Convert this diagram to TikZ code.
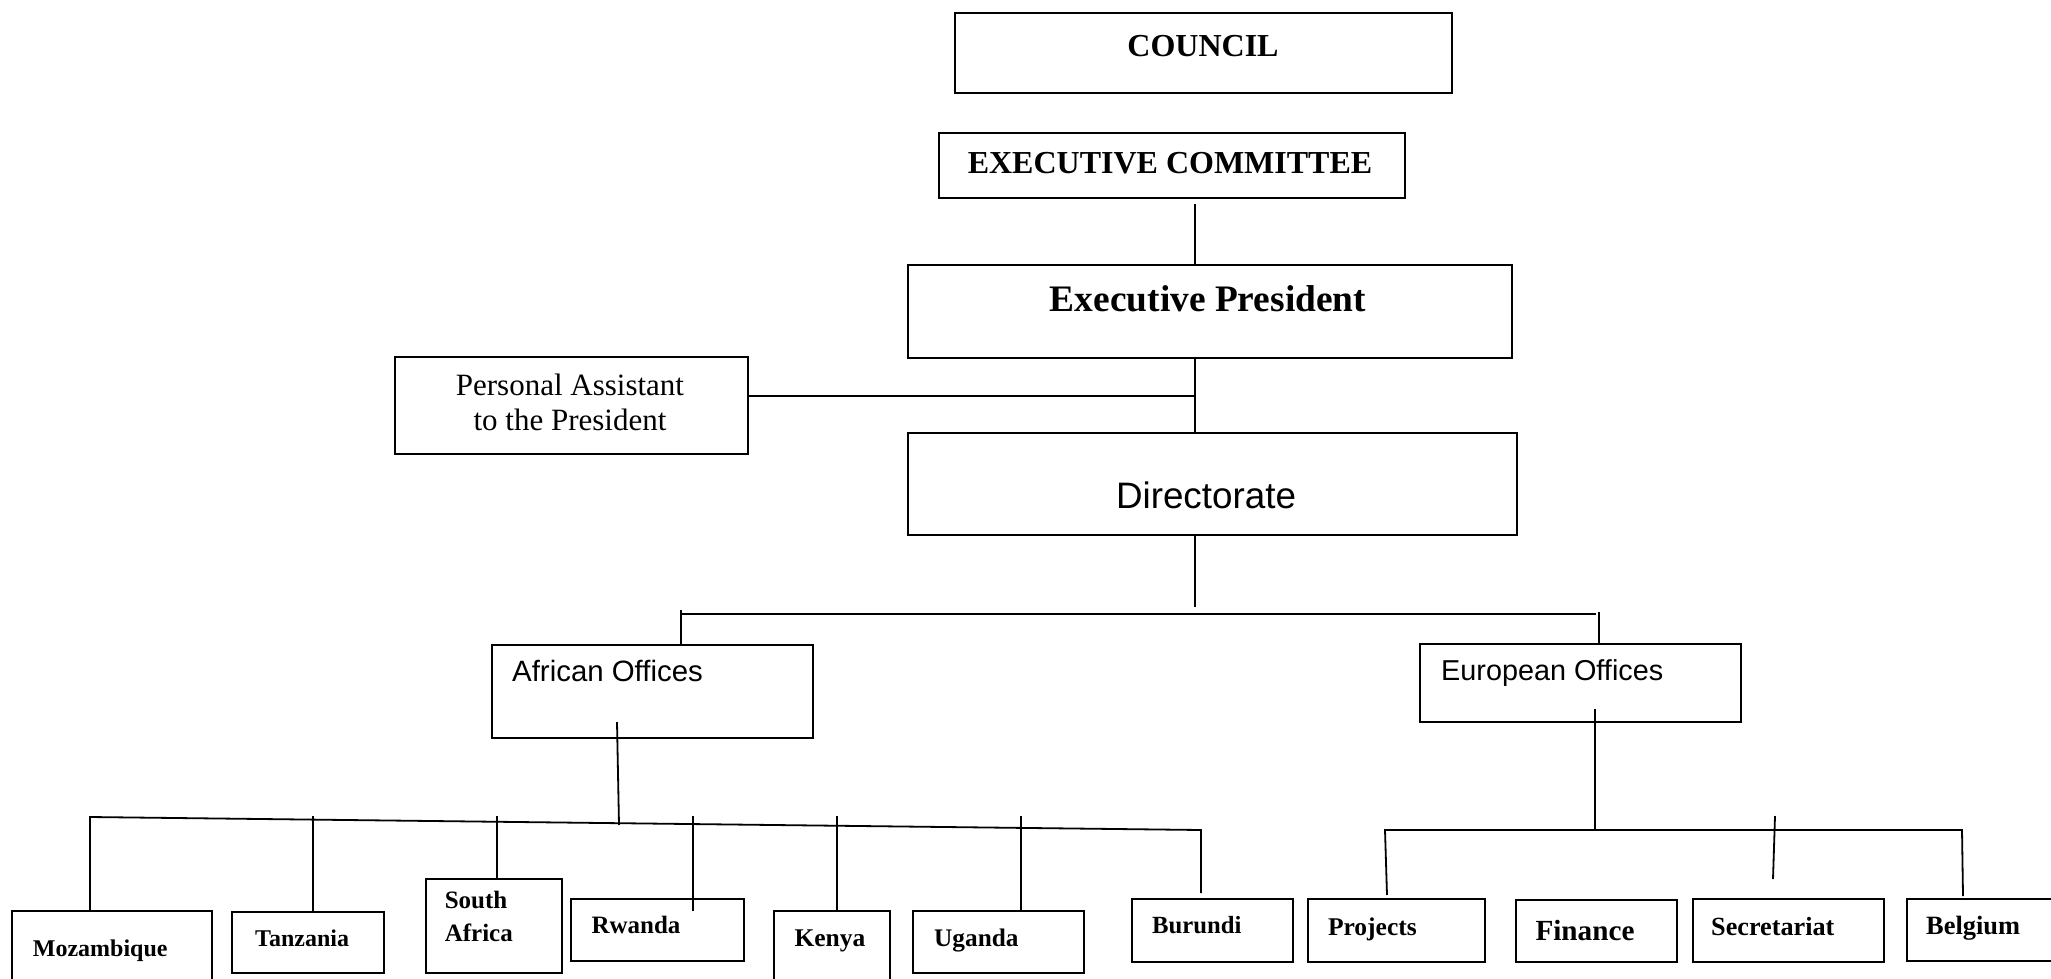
\documentclass[tikz,border=0pt]{standalone}
\usepackage{fontspec}
\setmainfont{Liberation Serif}
\newfontfamily\arialfont{Liberation Sans}

% an empty framed box given by its corners (x0,y0) -- (x1,y1), y growing downwards
\newcommand\orgbox[5]{%
  \pgfmathsetmacro\orgbw{#4-#2}\pgfmathsetmacro\orgbh{#5-#3}%
  \node[unitbox, minimum width=\orgbw pt, minimum height=\orgbh pt] (#1) at (#2,#3) {};}

\tikzset{
  unitbox/.style={draw, line width=2pt, rectangle, inner sep=0pt, anchor=north west},
  wire/.style={line width=1.8pt},
  tbold/.style={font=\fontsize{#1}{#1}\selectfont\bfseries, inner sep=0pt},
  troman/.style={font=\fontsize{#1}{#1}\selectfont, inner sep=0pt},
  sansl/.style={font=\arialfont\fontsize{#1}{#1}\selectfont, inner sep=0pt},
}

\begin{document}
\begin{tikzpicture}[x=1pt, y=-1pt]
\useasboundingbox (0,0) rectangle (2051,978);
\clip (0,0) rectangle (2051,978);
\fill[white] (0,0) rectangle (2051,978);

% ---- upper levels
\orgbox{council}{954}{12}{1451}{92}
\orgbox{ec}{938}{132}{1404}{197}
\orgbox{ep}{907}{264}{1511}{357}
\orgbox{pa}{394}{356}{747}{453}
\orgbox{dir}{907}{432}{1516}{534}

\node[tbold=32, anchor=base] (council-t) at (1203,56.7) {COUNCIL};
\node[tbold=32, anchor=base] (ec-t) at (1170,173.3) {EXECUTIVE COMMITTEE};
\node[tbold=37.4, anchor=base] (ep-t) at (1208,311.7) {Executive President};
\node[troman=31, anchor=base] (pa-t1) at (570,395) {Personal Assistant};
\node[troman=31, anchor=base] (pa-t2) at (570,430) {to the President};
\node[sansl=36.8, anchor=base] (dir-t) at (1206,508.5) {Directorate};

% ---- regional offices
\orgbox{afr}{491}{644}{812}{737}
\orgbox{eur}{1419}{643}{1740}{721}
\node[sansl=29.4, anchor=base west] (afr-t) at (512,681.7) {African Offices};
\node[sansl=28.8, anchor=base west] (eur-t) at (1441,680) {European Offices};

% ---- African countries
\orgbox{moz}{11}{910}{211}{1000}
\orgbox{tan}{231}{911}{383}{972}
\orgbox{sa}{425}{878}{561}{972}
\orgbox{rwa}{570}{898}{743}{960}
\orgbox{ken}{773}{910}{889}{1000}
\orgbox{uga}{912}{910}{1083}{972}
\orgbox{bur}{1131}{898}{1292}{961}

\node[tbold=24, anchor=base west] (moz-t) at (32.7,956) {Mozambique};
\node[tbold=24, anchor=base west] (tan-t) at (255,946.7) {Tanzania};
\node[tbold=25, anchor=base west] (sa-t1) at (444.6,908.3) {South};
\node[tbold=25, anchor=base west] (sa-t2) at (444.6,941.7) {Africa};
\node[tbold=25, anchor=base west] (rwa-t) at (591.3,933.3) {Rwanda};
\node[tbold=25.5, anchor=base west] (ken-t) at (794.3,946.7) {Kenya};
\node[tbold=25.3, anchor=base west] (uga-t) at (934,946.7) {Uganda};
\node[tbold=24.7, anchor=base west] (bur-t) at (1152,933.3) {Burundi};

% ---- European units
\orgbox{proj}{1307}{898}{1484}{961}
\orgbox{fin}{1515}{899}{1676}{961}
\orgbox{sec}{1692}{898}{1883}{961}
\orgbox{bel}{1906}{898}{2070}{960}

\node[tbold=25.5, anchor=base west] (proj-t) at (1327.8,935) {Projects};
\node[tbold=29.2, anchor=base west] (fin-t) at (1535.3,940) {Finance};
\node[tbold=26.2, anchor=base west] (sec-t) at (1711,935) {Secretariat};
\node[tbold=26.4, anchor=base west] (bel-t) at (1926,934) {Belgium};

% ---- connectors: head office
\coordinate (ec-out) at (1195,204);
\coordinate (pa-tap) at (747,396);
\coordinate (dir-out) at (1195,607);
\draw[wire] (ec-out) -- (ec-out |- ep.north);
\draw[wire] (ec-out |- ep.south) -- (ec-out |- dir.north);
\draw[wire] (pa-tap) -- (pa-tap -| ec-out);
\draw[wire] (ec-out |- dir.south) -- (dir-out);

% ---- branch to the two regions
\coordinate (br-l) at (681,614);
\coordinate (br-r) at (1596,614);
\coordinate (afr-in) at (681,610);
\coordinate (eur-in) at (1599,612);
\draw[wire] (br-l) -- (br-r);
\draw[wire] (afr-in) -- (afr-in |- afr.north);
\draw[wire] (eur-in) -- (eur-in |- eur.north);

% ---- African bus
\coordinate (afr-out) at (617,722);
\coordinate (afr-bus) at (619,825);
\coordinate (bus-l) at (90,817);
\coordinate (bus-r) at (1201,830);
\draw[wire] (afr-out) -- (afr-bus);
\draw[wire] (moz.north -| bus-l) -- (bus-l) -- (bus-r) -- (1201,893);
\draw[wire] (313,816) -- (313 ,911 |- tan.north);
\draw[wire] (497,816) -- (497,816 |- sa.north);
\draw[wire] (693,816) -- (693,911);
\draw[wire] (837,816) -- (837,816 |- ken.north);
\draw[wire] (1021,816) -- (1021,816 |- uga.north);

% ---- European bus
\coordinate (eur-out) at (1595,709);
\coordinate (ebus-l) at (1385,830);
\coordinate (ebus-r) at (1962,830);
\draw[wire] (eur-out) -- (eur-out |- ebus-l);
\draw[wire] (1387,895) -- (ebus-l) -- (ebus-r) -- (1963,896);
\draw[wire] (1775,816) -- (1773,879);
\end{tikzpicture}
\end{document}
